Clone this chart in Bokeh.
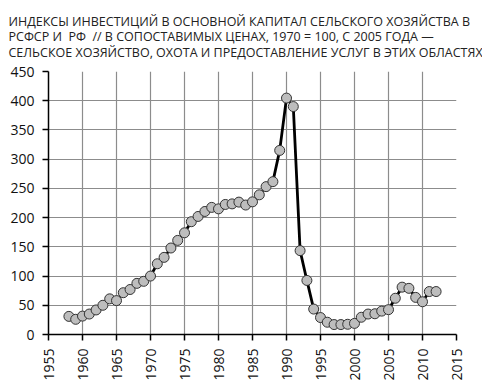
import math
from bokeh.plotting import figure
from bokeh.models import ColumnDataSource, FixedTicker, Range1d
from bokeh.embed import file_html
from bokeh.resources import INLINE

years = list(range(1958, 2013))
index_values = [31, 26, 31.5, 35, 42, 50, 61, 58, 71.5, 77, 87.5, 91,
                100, 121, 132, 148, 161, 174, 193, 202, 210.5, 217.5,
                215, 222.5, 223.5, 226.5, 221.5, 227, 239, 253, 261.5, 315,
                404.5, 390, 143.5, 92.5, 43.5, 29, 21, 17, 17, 17.5,
                19, 29.5, 35, 35.5, 40, 42.5, 62, 81, 79, 63.5,
                56, 73.5, 73.5]
x_ticks = [1955, 1960, 1965, 1970, 1975, 1980, 1985, 1990, 1995, 2000, 2005, 2010, 2015]
y_ticks = [0, 50, 100, 150, 200, 250, 300, 350, 400, 450]
title_text = ("ИНДЕКСЫ ИНВЕСТИЦИЙ В ОСНОВНОЙ КАПИТАЛ СЕЛЬСКОГО ХОЗЯЙСТВА В\n"
              "РСФСР И\u00a0 РФ\u00a0 // В СОПОСТАВИМЫХ ЦЕНАХ, 1970 = 100, С 2005 ГОДА —\n"
              "СЕЛЬСКОЕ ХОЗЯЙСТВО, ОХОТА И ПРЕДОСТАВЛЕНИЕ УСЛУГ В ЭТИХ ОБЛАСТЯХ")

src = ColumnDataSource(dict(x=years, y=index_values))

p = figure(frame_width=408, frame_height=263, output_backend="svg",
           toolbar_location=None,
           x_range=Range1d(1955, 2015), y_range=Range1d(0, 450),
           min_border_left=48, min_border_right=26, min_border_top=68,
           min_border_bottom=50)

p.title.text = title_text
p.title.text_font = "Open Sans"
p.title.text_font_size = "12.5px"
p.title.text_font_style = "normal"
p.title.text_color = "#222222"
p.title.text_line_height = 0.92
p.title.align = "left"
p.title.offset = -40
p.title.standoff = 21

p.outline_line_color = None
p.background_fill_color = "white"
p.border_fill_color = "white"

p.xaxis.ticker = FixedTicker(ticks=x_ticks)
p.yaxis.ticker = FixedTicker(ticks=y_ticks)
p.xaxis.major_label_orientation = math.pi / 2
for ax in (p.xaxis, p.yaxis):
    ax.axis_line_color = "black"
    ax.axis_line_width = 1.5
    ax.major_tick_line_color = "black"
    ax.major_tick_line_width = 1.5
    ax.major_tick_out = 6
    ax.major_tick_in = 0
    ax.minor_tick_line_color = None
    ax.major_label_text_font = "Open Sans"
    ax.major_label_text_font_size = "14px"
    ax.major_label_text_color = "#111111"
p.xaxis.major_label_standoff = 8
p.yaxis.major_label_standoff = 8

p.xgrid.ticker = FixedTicker(ticks=x_ticks)
p.ygrid.ticker = FixedTicker(ticks=y_ticks)
p.grid.grid_line_color = "#8c8c8c"
p.grid.grid_line_width = 1.2

p.line("x", "y", source=src, line_color="black", line_width=2.8)
p.scatter("x", "y", source=src, size=10, fill_color="#bdbdbd",
          line_color="#333333", line_width=1)

open("out.html", "w").write(file_html(p, INLINE))
